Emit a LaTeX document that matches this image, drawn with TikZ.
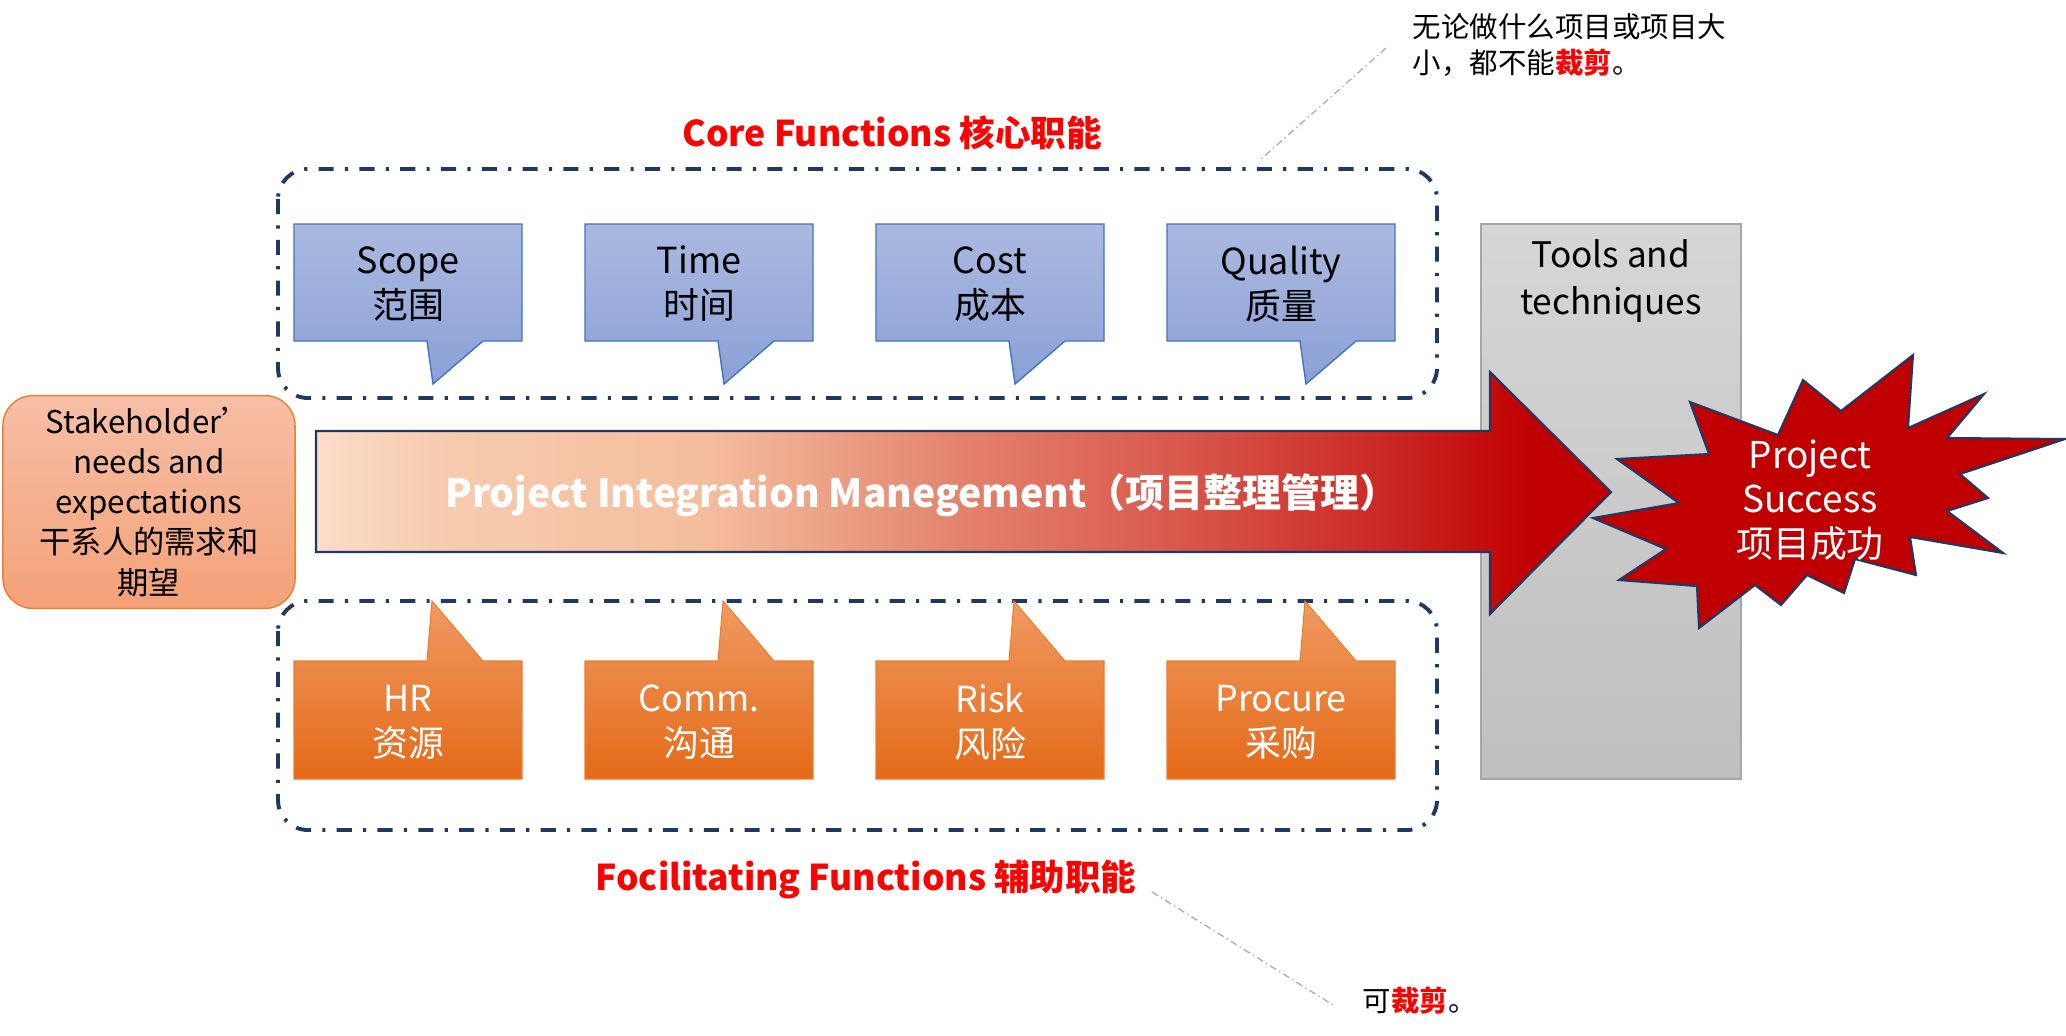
\documentclass[tikz,border=0pt]{standalone}
\usepackage{fontspec}
\setmainfont{Noto Sans CJK SC}
\usepackage{tikz}

\definecolor{navy}{HTML}{1F3864}
\definecolor{coretop}{HTML}{ABB9E0}
\definecolor{corebot}{HTML}{8AA1D6}
\definecolor{coreline}{HTML}{4472C4}
\definecolor{facitop}{HTML}{F09A62}
\definecolor{facibot}{HTML}{E46A18}
\definecolor{faciline}{HTML}{ED7D31}
\definecolor{staketop}{HTML}{F6BFA6}
\definecolor{stakebot}{HTML}{F4A178}
\definecolor{toolstop}{HTML}{D6D6D6}
\definecolor{toolsbot}{HTML}{BFBFBF}
\definecolor{burstred}{HTML}{C00000}
% colours of the long arrow, left to right
\definecolor{pimA}{HTML}{FADDC9}
\definecolor{pimB}{HTML}{F7CBAE}
\definecolor{pimC}{HTML}{F4BE9E}
\definecolor{pimD}{HTML}{E3826C}
\definecolor{pimE}{HTML}{D95A4C}
\definecolor{pimF}{HTML}{CB2A26}
\definecolor{pimG}{HTML}{C00000}
\pgfdeclarehorizontalshading{pimshade}{100bp}{color(0bp)=(pimA); color(25bp)=(pimA);
  color(30bp)=(pimB); color(40bp)=(pimC); color(50bp)=(pimD); color(58bp)=(pimE);
  color(66bp)=(pimF); color(72bp)=(pimG); color(100bp)=(pimG)}

\begin{document}
\begin{tikzpicture}[x=0.01cm,y=-0.01cm,
    dashdotbox/.style={draw=navy,line width=1.1pt,rounded corners=0.3cm,
      dash pattern=on 4.3pt off 3.2pt on 0.9pt off 3.2pt},
    corecall/.style={top color=coretop,bottom color=corebot,draw=coreline,line width=0.4pt},
    facicall/.style={top color=facitop,bottom color=facibot,draw=faciline,line width=0.3pt},
    calltext/.style={align=center,font=\fontsize{10.2}{12.8}\selectfont},
    heading/.style={text=red,font=\fontsize{10.1}{12.5}\selectfont\bfseries},
    leader/.style={draw=gray!60,line width=0.4pt,dash pattern=on 2pt off 1pt on 0.4pt off 1pt},
    note/.style={align=left,anchor=west,inner sep=0pt,font=\fontsize{8.1}{10.2}\selectfont}]
  \useasboundingbox (0,0) rectangle (2066,1035);

  % stakeholder box on the left
  \node[draw=faciline,line width=0.4pt,rounded corners=0.3cm,top color=staketop,bottom color=stakebot,
    minimum width=2.92cm,minimum height=2.02cm,align=center,
    font=\fontsize{8.9}{11.4}\selectfont] (stake) at (149,502)
    {Stakeholder’\\needs and\\expectations\\干系人的需求和\\期望};

  % the two groups
  \draw[dashdotbox] (278,169) rectangle (1437,398);
  \draw[dashdotbox] (278,601) rectangle (1437,830);
  \node[heading] (core) at (892,133) {Core Functions 核心职能};
  \node[heading] (faci) at (866,879) {Focilitating Functions 辅助职能};

  \foreach \x/\nm/\en/\cn in {294/scope/Scope/范围, 585/time/Time/时间, 876/cost/Cost/成本, 1167/quality/Quality/质量}{
    \path[corecall] (\x,224) -- (\x+228,224) -- (\x+228,341) -- (\x+189,341) -- (\x+139,384)
      -- (\x+133,341) -- (\x,341) -- cycle;
    \node[calltext] (\nm) at (\x+114,284) {\en\\\cn};
  }
  \foreach \x/\nm/\en/\cn in {294/hr/HR/资源, 585/comm/Comm./沟通, 876/risk/Risk/风险, 1167/procure/Procure/采购}{
    \path[facicall] (\x,661) -- (\x+133,661) -- (\x+138,601) -- (\x+189,661) -- (\x+228,661)
      -- (\x+228,779) -- (\x,779) -- cycle;
    \node[calltext,text=white] (\nm) at (\x+114,722) {\en\\\cn};
  }

  % tools column
  \path[top color=toolstop,bottom color=toolsbot,draw=gray!70,line width=0.4pt] (1481,224) rectangle (1741,779);
  \node[align=center,font=\fontsize{10}{13.4}\selectfont] (tools) at (1611,281) {Tools and\\techniques};

  % big arrow
  \path[shading=pimshade,draw=navy,line width=0.6pt] (316,431) -- (1490,431) -- (1490,372) -- (1611,492)
    -- (1490,614) -- (1490,552) -- (316,552) -- cycle;
  \node[text=white,font=\fontsize{11.1}{13}\selectfont\bfseries] (pim) at (922,495)
    {Project Integration Manegement（项目整理管理）};

  % success burst
  \draw[fill=burstred,draw=navy,line width=0.6pt] (1690,402) -- (1778,435) -- (1803,380) -- (1841,411)
    -- (1913,355) -- (1908,428) -- (1984,394) -- (1947,438) -- (2065,439) -- (1960,474) -- (1988,498)
    -- (1947,511) -- (2003,553) -- (1910,537) -- (1916,575) -- (1855,559) -- (1844,593) -- (1807,575)
    -- (1781,605) -- (1755,585) -- (1699,628) -- (1697,586) -- (1619,580) -- (1666,549) -- (1593,518)
    -- (1679,503) -- (1617,459) -- (1709,454) -- cycle;
  \node[align=center,text=white,font=\fontsize{10.5}{12.6}\selectfont] (success) at (1810,500)
    {Project\\Success\\项目成功};

  % notes
  \node[note] (note1) at (1412,45) {无论做什么项目或项目大\\小，都不能{\bfseries\color{red}裁剪}。};
  \node[note] (note2) at (1362,1001) {可{\bfseries\color{red}裁剪}。};
  \coordinate (lead1) at (1386,48);
  \coordinate (lead2) at (1260,160);
  \coordinate (lead3) at (1152,892);
  \coordinate (lead4) at (1333,1005);
  \draw[leader] (lead1) -- (lead2);
  \draw[leader] (lead3) -- (lead4);
\end{tikzpicture}
\end{document}
